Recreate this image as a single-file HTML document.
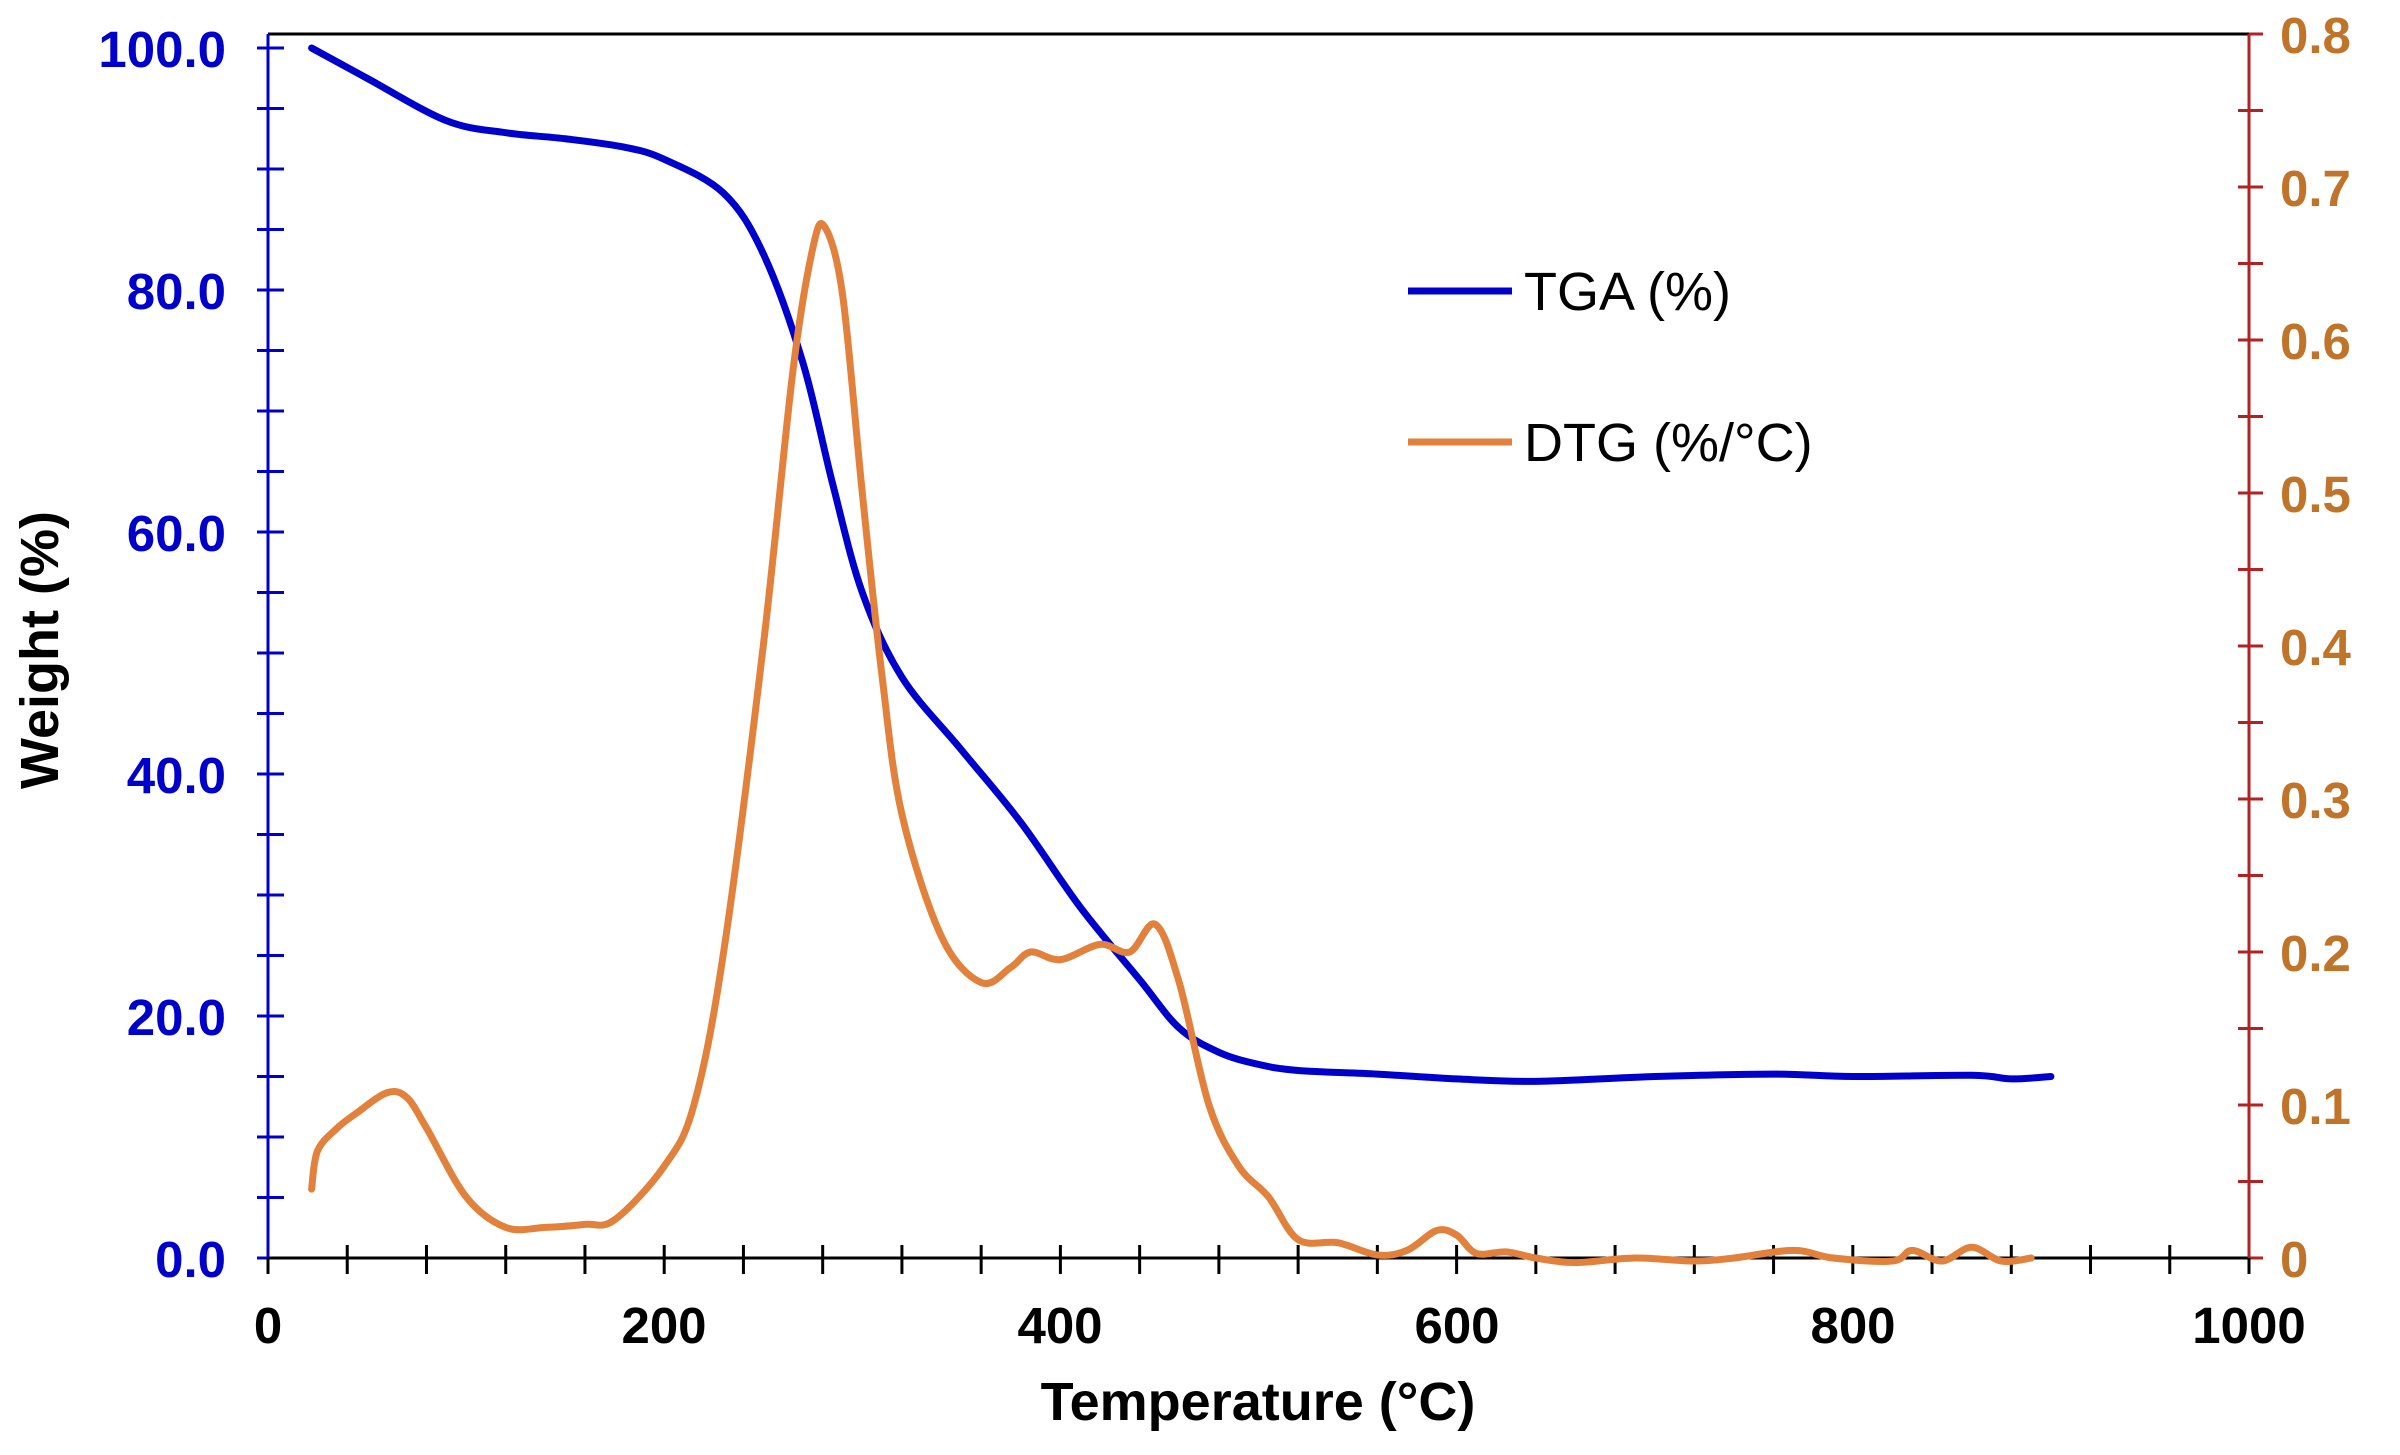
<!DOCTYPE html>
<html><head><meta charset="utf-8"><style>
html,body{margin:0;padding:0;background:#fff;}
svg{display:block;font-family:"Liberation Sans",Arial,sans-serif;}
</style></head><body>
<svg id="s" width="2400" height="1455" viewBox="0 0 2400 1455" xmlns="http://www.w3.org/2000/svg">
<rect width="2400" height="1455" fill="#fff"/>
<g id="ticks"></g>
<line x1="268" y1="34" x2="2249" y2="34" stroke="#000" stroke-width="3"/>
<line x1="268" y1="1258" x2="2249" y2="1258" stroke="#000" stroke-width="3"/>
<line x1="268" y1="34" x2="268" y2="1258" stroke="#0000cc" stroke-width="3"/>
<line x1="2249" y1="34" x2="2249" y2="1258" stroke="#b22222" stroke-width="3"/>
<path id="tga" fill="none" stroke="#0000cc" stroke-width="7" stroke-linejoin="round" stroke-linecap="round"/>
<path id="dtg" fill="none" stroke="#e2813b" stroke-width="7" stroke-linejoin="round" stroke-linecap="round"/>
<g font-weight="bold" font-size="51" fill="#0000cc" text-anchor="end">
<text x="226" y="67">100.0</text><text x="226" y="309">80.0</text><text x="226" y="551">60.0</text>
<text x="226" y="793">40.0</text><text x="226" y="1035">20.0</text><text x="226" y="1277">0.0</text>
</g>
<g font-weight="bold" font-size="51" fill="#c0742a" text-anchor="start">
<text x="2280" y="53">0.8</text><text x="2280" y="206">0.7</text><text x="2280" y="359">0.6</text>
<text x="2280" y="512">0.5</text><text x="2280" y="665">0.4</text><text x="2280" y="818">0.3</text>
<text x="2280" y="971">0.2</text><text x="2280" y="1124">0.1</text><text x="2280" y="1277">0</text>
</g>
<g font-weight="bold" font-size="51" fill="#000" text-anchor="middle">
<text x="268" y="1343">0</text><text x="664" y="1343">200</text><text x="1060" y="1343">400</text>
<text x="1457" y="1343">600</text><text x="1853" y="1343">800</text><text x="2249" y="1343">1000</text>
</g>
<text x="1258" y="1420" font-weight="bold" font-size="54" text-anchor="middle" fill="#000">Temperature (°C)</text>
<text transform="translate(58,650) rotate(-90)" font-weight="bold" font-size="54" text-anchor="middle" fill="#000">Weight (%)</text>
<line x1="1408" y1="291" x2="1512" y2="291" stroke="#0000cc" stroke-width="7"/>
<text x="1524" y="310" font-size="54" fill="#000">TGA (%)</text>
<line x1="1408" y1="442" x2="1512" y2="442" stroke="#e2813b" stroke-width="7"/>
<text x="1524" y="461" font-size="54" fill="#000">DTG (%/°C)</text>
</svg>
<script>
const X=t=>268+t*1.981, Y=w=>1258-w*12.1, Y2=v=>1258-v*1530;
const g=document.getElementById('ticks');let h='';
for(let w=0;w<=100;w+=5)h+=`<line x1="257" x2="284" y1="${Y(w)}" y2="${Y(w)}" stroke="#0000cc" stroke-width="3"/>`;
for(let v=0;v<=0.801;v+=0.05)h+=`<line x1="2238" x2="2263" y1="${Y2(v)}" y2="${Y2(v)}" stroke="#b22222" stroke-width="3"/>`;
for(let t=0;t<=1000;t+=40)h+=`<line y1="1245" y2="1274" x1="${X(t)}" x2="${X(t)}" stroke="#000" stroke-width="3"/>`;
g.innerHTML=h;
function cr(p){let d=`M${p[0][0]},${p[0][1]}`;for(let i=0;i<p.length-1;i++){const a=p[i-1]||p[i],b=p[i],c=p[i+1],e=p[i+2]||c;
d+=`C${b[0]+(c[0]-a[0])/6},${b[1]+(c[1]-a[1])/6} ${c[0]-(e[0]-b[0])/6},${c[1]-(e[1]-b[1])/6} ${c[0]},${c[1]}`;}return d;}
const tga=[[22,100],[50,97.5],[90,94],[120,93],[150,92.5],[180,91.8],[200,90.8],[230,88],[250,83],[270,74],[285,64],[300,55],[320,48],[350,42],[380,36],[410,29],[440,23],[460,19],[480,17],[500,16],[520,15.5],[560,15.2],[600,14.8],[640,14.6],[700,15],[760,15.2],[800,15],[860,15.1],[880,14.8],[900,15]];
const dtg=[[22,0.045],[25,0.07],[35,0.085],[45,0.095],[60,0.108],[70,0.105],[80,0.085],[100,0.04],[120,0.02],[140,0.02],[160,0.022],[175,0.025],[200,0.06],[215,0.1],[230,0.2],[250,0.4],[265,0.58],[275,0.66],[281,0.674],[290,0.63],[300,0.5],[310,0.38],[320,0.29],[340,0.21],[360,0.18],[375,0.19],[385,0.2],[400,0.195],[420,0.205],[435,0.2],[448,0.218],[460,0.18],[475,0.1],[490,0.06],[505,0.04],[520,0.012],[540,0.01],[560,0.002],[575,0.005],[590,0.018],[600,0.015],[610,0.003],[625,0.004],[640,0],[660,-0.003],[690,0],[720,-0.002],[740,0],[770,0.005],[790,0],[820,-0.002],[830,0.005],[845,-0.002],[860,0.007],[875,-0.002],[890,0]];
document.getElementById('tga').setAttribute('d',cr(tga.map(p=>[X(p[0]),Y(p[1])])));
document.getElementById('dtg').setAttribute('d',cr(dtg.map(p=>[X(p[0]),Y2(p[1])])));
</script>
</body></html>
